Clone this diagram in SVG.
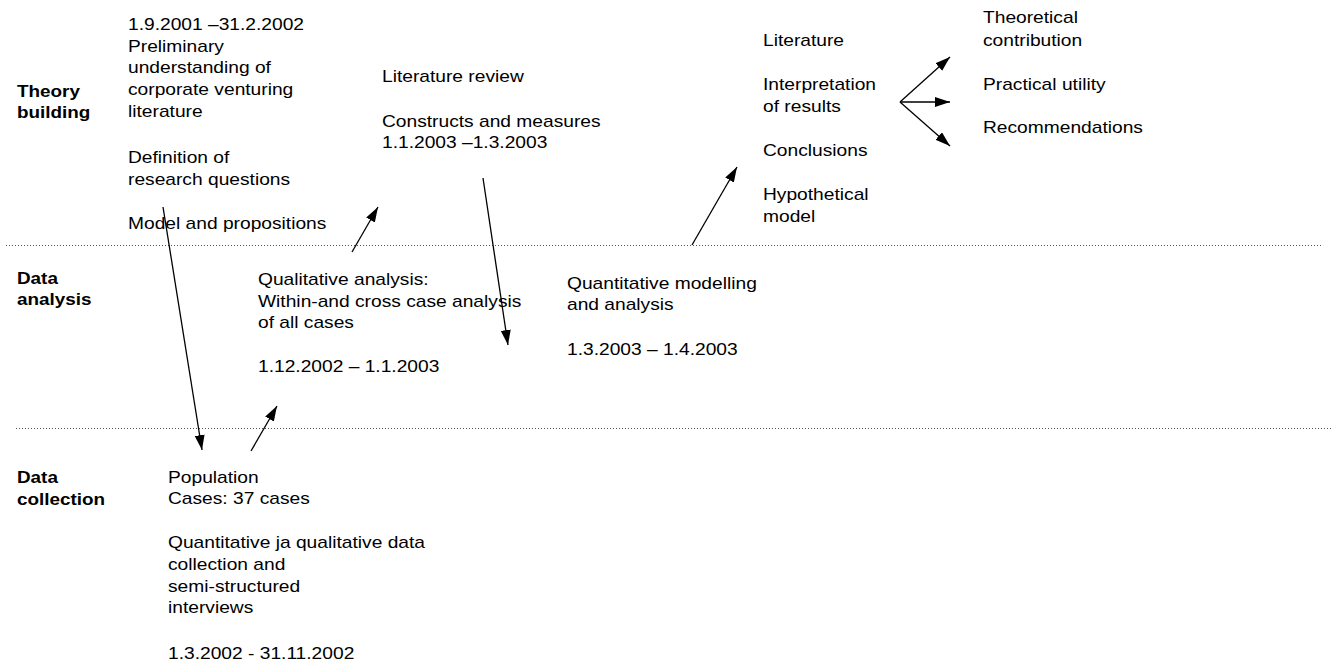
<svg xmlns="http://www.w3.org/2000/svg" width="1334" height="664" viewBox="0 0 1334 664">
  <style>
    text { font-family: "Liberation Sans", Arial, sans-serif; font-size: 16px; fill: #000; }
    .lane text { font-weight: bold; }
    .sep { stroke: #555; stroke-width: 1; stroke-dasharray: 1 2; fill: none; }
    .arrow { stroke: #000; stroke-width: 1.3; fill: none; marker-end: url(#head); }
  </style>
  <defs>
    <marker id="head" markerUnits="userSpaceOnUse" markerWidth="16" markerHeight="12" refX="15" refY="5" orient="auto">
      <path d="M0,0 L15,5 L0,10 z" fill="#000"/>
    </marker>
  </defs>
  <rect width="1334" height="664" fill="#fff"/>

  <!-- lane separators -->
  <g id="separators">
    <line class="sep" x1="6" y1="245.5" x2="1323" y2="245.5"/>
    <line class="sep" x1="16" y1="428.5" x2="1332" y2="428.5"/>
  </g>

  <!-- lane titles (text set slightly wide) -->
  <g id="lane-theory" class="lane" transform="translate(17 0) scale(1.18 1)">
    <text x="0" y="97">Theory</text>
    <text x="0" y="118">building</text>
  </g>
  <g id="lane-analysis" class="lane" transform="translate(17 0) scale(1.18 1)">
    <text x="0" y="284">Data</text>
    <text x="0" y="305">analysis</text>
  </g>
  <g id="lane-collection" class="lane" transform="translate(17 0) scale(1.18 1)">
    <text x="0" y="483">Data</text>
    <text x="0" y="505">collection</text>
  </g>

  <!-- theory building steps -->
  <g id="node-preliminary" transform="translate(128 0) scale(1.2 1)">
    <text x="0" y="30">1.9.2001 –31.2.2002</text>
    <text x="0" y="52">Preliminary</text>
    <text x="0" y="73">understanding of</text>
    <text x="0" y="95">corporate venturing</text>
    <text x="0" y="117">literature</text>
    <text x="0" y="163">Definition of</text>
    <text x="0" y="185">research questions</text>
    <text x="0" y="229">Model and propositions</text>
  </g>
  <g id="node-literature-review" transform="translate(382 0) scale(1.2 1)">
    <text x="0" y="82">Literature review</text>
    <text x="0" y="127">Constructs and measures</text>
    <text x="0" y="148">1.1.2003 –1.3.2003</text>
  </g>
  <g id="node-interpretation" transform="translate(763 0) scale(1.2 1)">
    <text x="0" y="46">Literature</text>
    <text x="0" y="90">Interpretation</text>
    <text x="0" y="112">of results</text>
    <text x="0" y="156">Conclusions</text>
    <text x="0" y="200">Hypothetical</text>
    <text x="0" y="222">model</text>
  </g>
  <g id="node-outcomes" transform="translate(983 0) scale(1.2 1)">
    <text x="0" y="23">Theoretical</text>
    <text x="0" y="46">contribution</text>
    <text x="0" y="90">Practical utility</text>
    <text x="0" y="133">Recommendations</text>
  </g>

  <!-- data analysis steps -->
  <g id="node-qualitative" transform="translate(258 0) scale(1.2 1)">
    <text x="0" y="285">Qualitative analysis:</text>
    <text x="0" y="307">Within-and cross case analysis</text>
    <text x="0" y="328">of all cases</text>
    <text x="0" y="372">1.12.2002 – 1.1.2003</text>
  </g>
  <g id="node-quantitative" transform="translate(567 0) scale(1.2 1)">
    <text x="0" y="289">Quantitative modelling</text>
    <text x="0" y="310">and analysis</text>
    <text x="0" y="355">1.3.2003 – 1.4.2003</text>
  </g>

  <!-- data collection step -->
  <g id="node-population" transform="translate(168 0) scale(1.2 1)">
    <text x="0" y="483">Population</text>
    <text x="0" y="504">Cases: 37 cases</text>
    <text x="0" y="548">Quantitative ja qualitative data</text>
    <text x="0" y="570">collection and</text>
    <text x="0" y="592">semi-structured</text>
    <text x="0" y="613">interviews</text>
    <text x="0" y="659">1.3.2002 - 31.11.2002</text>
  </g>

  <!-- connectors -->
  <g id="connectors">
    <line class="arrow" x1="163" y1="207" x2="202" y2="450"/>
    <line class="arrow" x1="251" y1="451" x2="277" y2="406"/>
    <line class="arrow" x1="352" y1="252" x2="378" y2="207"/>
    <line class="arrow" x1="483" y1="178" x2="508" y2="345"/>
    <line class="arrow" x1="692" y1="245" x2="737" y2="167"/>
    <line class="arrow" x1="900" y1="102" x2="950" y2="57"/>
    <line class="arrow" x1="900" y1="102" x2="950" y2="102"/>
    <line class="arrow" x1="900" y1="102" x2="950" y2="146"/>
  </g>
</svg>
